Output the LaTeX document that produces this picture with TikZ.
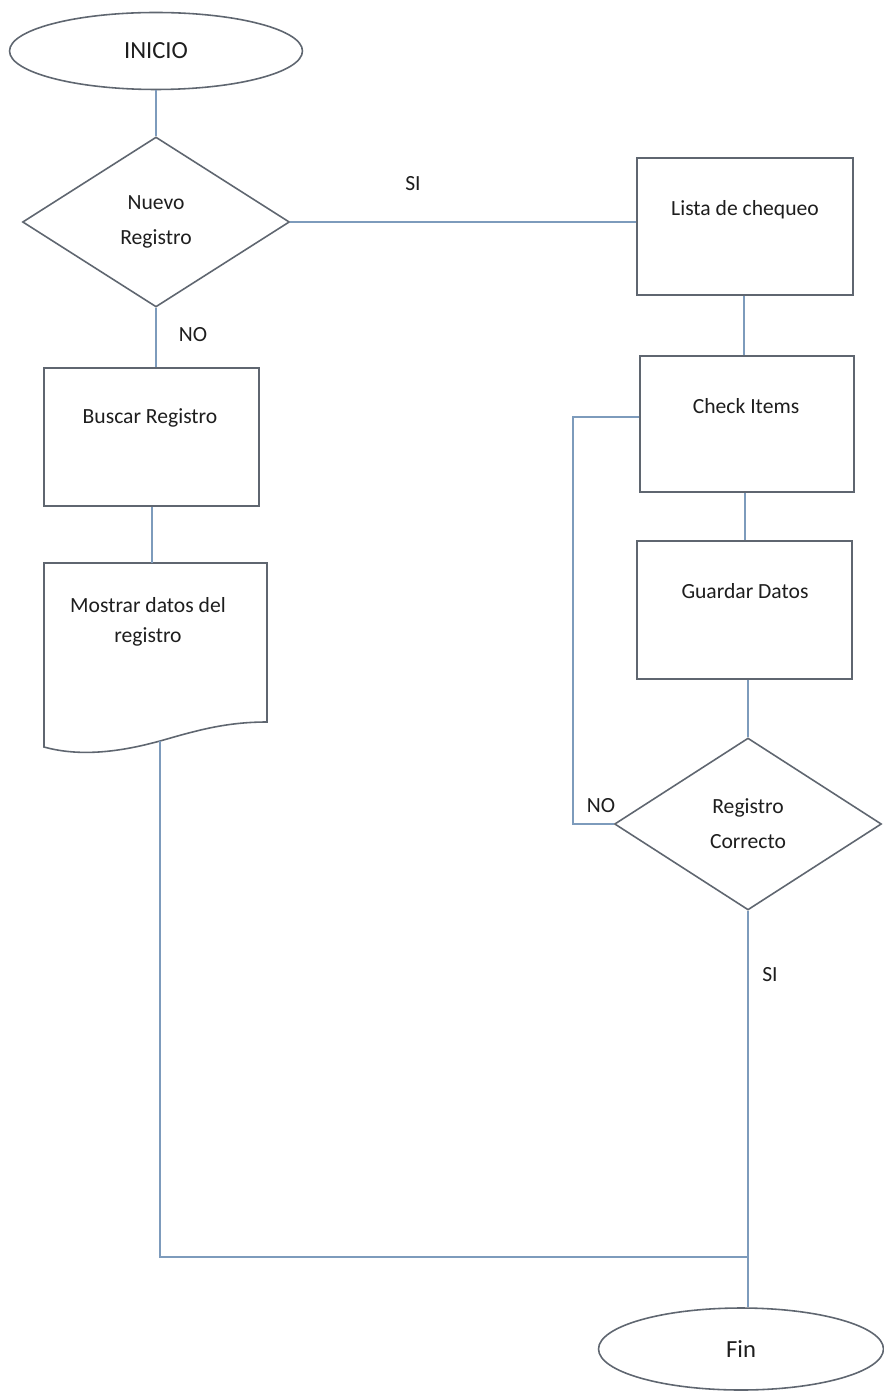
\documentclass[tikz,border=0pt]{standalone}
\usepackage{fontspec}
\setmainfont{Carlito}
\usetikzlibrary{shapes.geometric}
\definecolor{shapeline}{RGB}{95,102,112}
\definecolor{connline}{RGB}{125,155,188}
\definecolor{txt}{RGB}{30,30,30}
\begin{document}
\begin{tikzpicture}[x=0.02cm,y=-0.02cm,
  shp/.style={draw=shapeline,line width=0.9pt,fill=white,inner sep=0pt},
  terminal/.style={shp,ellipse,font=\fontsize{14}{16}\selectfont},
  decision/.style={shp,diamond,align=center,font=\fontsize{12.3}{20}\selectfont},
  procbox/.style={shp,rectangle},
  lbl/.style={text=txt,font=\fontsize{12.3}{16}\selectfont,align=center,inner sep=0pt},
  conn/.style={draw=connline,line width=0.9pt}]
\useasboundingbox (0,0) rectangle (884,1391);
\fill[white] (0,0) rectangle (884,1391);

% nodes
\node[terminal,minimum width=5.86cm,minimum height=1.54cm,text=txt] (inicio) at (156,51) {INICIO};
\node[decision,minimum width=5.34cm,minimum height=3.4cm,text=txt] (nuevo) at (156,222) {Nuevo\\Registro};
\node[procbox,minimum width=4.32cm,minimum height=2.74cm] (lista) at (745,226.5) {};
\node[lbl] (listat) at (745,210) {Lista de chequeo};
\node[procbox,minimum width=4.28cm,minimum height=2.72cm] (check) at (747,424) {};
\node[lbl] (checkt) at (746,406) {Check Items};
\node[procbox,minimum width=4.30cm,minimum height=2.76cm] (guardar) at (744.5,610) {};
\node[lbl] (guardart) at (745,591) {Guardar Datos};
\node[decision,minimum width=5.34cm,minimum height=3.44cm,text=txt] (rc) at (748,824) {Registro\\Correcto};
\node[procbox,minimum width=4.30cm,minimum height=2.76cm] (buscar) at (151.5,437) {};
\node[lbl] (buscart) at (150,418) {Buscar Registro};
% document shape
\coordinate (doctop) at (152,563);
\coordinate (docbot) at (160,741);
\draw[shapeline,line width=0.9pt,fill=white] (44,563) -- (267,563) -- (267,722)
  .. controls (225,722) and (195,731) .. (docbot)
  .. controls (120,752) and (80,757) .. (44,747) -- cycle;
\node[lbl,font=\fontsize{12.3}{17}\selectfont] (doct) at (148,622) {Mostrar datos del\\registro};
\node[terminal,minimum width=5.7cm,minimum height=1.64cm,text=txt] (fin) at (741,1349) {Fin};

% connectors
\draw[conn] (inicio.south) -- (nuevo.north);
\draw[conn] (nuevo.east) -- (nuevo.east -| lista.west);
\draw[conn] (nuevo.south) -- (buscar.north -| nuevo.south);
\draw[conn] (buscar.south -| doctop) -- (doctop);
\draw[conn] (lista.south -| 744,0) -- (check.north -| 744,0);
\draw[conn] (check.south -| 745,0) -- (guardar.north -| 745,0);
\draw[conn] (guardar.south -| rc.north) -- (rc.north);
\coordinate (loopA) at (573,417);
\draw[conn] (check.west |- loopA) -- (loopA) -- (loopA |- rc.west) -- (rc.west);
\coordinate (join) at (rc.south |- 0,1257);
\draw[conn] (rc.south) -- (fin.north -| rc.south);
\draw[conn] (docbot) -- (docbot |- join) -- (join);

% labels
\node[lbl] (si1) at (413,184) {SI};
\node[lbl] (no1) at (193,335) {NO};
\node[lbl] (no2) at (601,806) {NO};
\node[lbl] (si2) at (770,975) {SI};
\end{tikzpicture}
\end{document}
